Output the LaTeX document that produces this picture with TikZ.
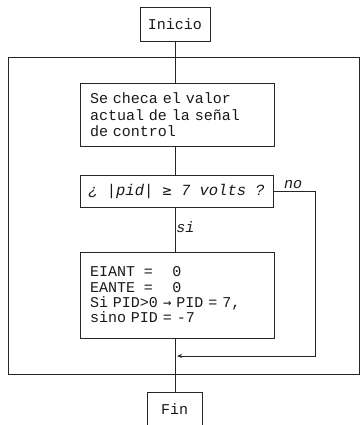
\documentclass[tikz,border=0pt]{standalone}
\usepackage{fontspec}
\setmainfont{Liberation Mono}
\newfontfamily\symfont{DejaVu Sans Mono}
\usetikzlibrary{arrows.meta}
\begin{document}
\begin{tikzpicture}[x=1pt,y=-1pt,
  every node/.style={font=\fontsize{15}{16.5}\selectfont, text=black!90},
  box/.style={draw=black!85, line width=0.9pt, rectangle, inner sep=0pt},
  conn/.style={draw=black!85, line width=0.9pt},
  lbl/.style={font=\fontsize{15}{16}\selectfont\itshape, inner sep=1pt}]
\useasboundingbox (0,0) rectangle (361,425);
% outer frame
\node[box, minimum width=351pt, minimum height=317pt] (outer) at (183.5,215.5) {};
% nodes
\node[box, minimum width=70pt, minimum height=34pt] (inicio) at (175,24) {Inicio};
\node[box, minimum width=194pt, minimum height=63pt, align=left, text width=174pt] (check) at (177,115)
  {Se checa el valor\\actual de la señal\\de control};
\node[box, minimum width=193pt, minimum height=32pt, font=\fontsize{15.5}{16}\selectfont\itshape] (cond) at (176.5,191)
  {¿ |pid| {\symfont\upshape\fontsize{15}{16}\selectfont ≥} 7 volts ?};
\node[box, minimum width=194pt, minimum height=86pt, align=left, text width=174pt, font=\fontsize{15}{15.3}\selectfont] (assign) at (177,295)
  {\makebox[3.6em][l]{EIANT}\makebox[1.9em][l]{=}0\\
   \makebox[3.6em][l]{EANTE}\makebox[1.9em][l]{=}0\\
   Si PID>0 {\symfont\fontsize{14}{15}\selectfont →} PID = 7,\\
   sino PID = -7\\[2pt]};
\node[box, minimum width=55pt, minimum height=40pt, anchor=north] (fin) at (174.5,392) {\raisebox{6pt}{Fin}};
% coordinates for loop
\coordinate (r1) at (315,191);
\coordinate (r2) at (315,356);
\coordinate (join) at (177,356);
% connectors
\draw[conn] (inicio.south) -- (inicio.south |- check.north);
\draw[conn] (check.south -| inicio.south) -- (cond.north -| inicio.south);
\draw[conn] (cond.south -| inicio.south) -- node[lbl, right, pos=0.45] {si} (assign.north -| inicio.south);
\draw[conn] (assign.south -| inicio.south) -- (fin.north -| inicio.south);
\draw[conn, -{Stealth[length=5pt,width=4pt]}] (cond.east |- r1) -- (r1) -- (r2) -- (join);
\node[lbl, anchor=south] (nolbl) at (293,190) {no};
\end{tikzpicture}
\end{document}
